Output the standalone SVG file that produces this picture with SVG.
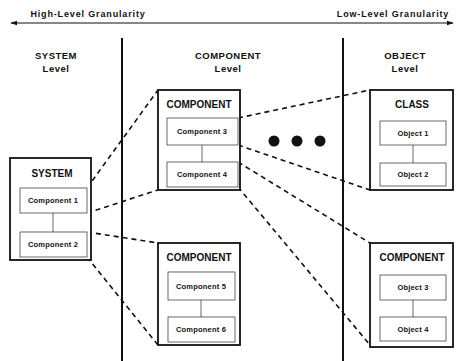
<svg xmlns="http://www.w3.org/2000/svg" width="459" height="361" viewBox="0 0 459 361">
<style>
text{font-family:"Liberation Sans",Arial,sans-serif;fill:#111;text-anchor:middle}
.hdr{font-size:9.5px;font-weight:bold;letter-spacing:0.5px}
.gran{font-size:9px;font-weight:bold;letter-spacing:0.85px}
.ttl{font-size:10px;font-weight:bold}
.sub{font-size:7.5px;font-weight:bold;letter-spacing:0.2px}
.outer{fill:#fff;stroke:#111;stroke-width:1.8}
.inner{fill:#fff;stroke:#444;stroke-width:0.8}
.link{stroke:#444;stroke-width:0.8}
.dash{stroke:#111;stroke-width:1.6;stroke-dasharray:5 4;fill:none}
.div{stroke:#111;stroke-width:2}
</style>
<defs>
<marker id="ah" viewBox="0 0 10 10" refX="9" refY="5" markerWidth="7" markerHeight="7" orient="auto-start-reverse" markerUnits="userSpaceOnUse">
<path d="M0,1.5 L10,5 L0,8.5 Z" fill="#111"/>
</marker>
</defs>
<g id="scale">
<line x1="11" y1="23" x2="453" y2="23" stroke="#111" stroke-width="1.2" marker-start="url(#ah)" marker-end="url(#ah)"/>
<text class="gran" x="88" y="17">High-Level Granularity</text>
<text class="gran" x="393" y="17">Low-Level Granularity</text>
</g>
<g id="dividers">
<line class="div" x1="122" y1="38" x2="122" y2="361"/>
<line class="div" x1="343" y1="38" x2="343" y2="361"/>
</g>
<g id="headers">
<text class="hdr" x="56" y="59">SYSTEM</text>
<text class="hdr" x="56" y="72">Level</text>
<text class="hdr" x="228" y="59">COMPONENT</text>
<text class="hdr" x="228" y="72">Level</text>
<text class="hdr" x="405" y="59">OBJECT</text>
<text class="hdr" x="405" y="72">Level</text>
</g>
<g id="connectors">
<line class="dash" x1="87" y1="188" x2="158" y2="90"/>
<line class="dash" x1="87" y1="213" x2="158" y2="190"/>
<line class="dash" x1="87" y1="232" x2="158" y2="243"/>
<line class="dash" x1="87" y1="257" x2="158" y2="345"/>
<line class="dash" x1="238" y1="118" x2="370" y2="90"/>
<line class="dash" x1="238" y1="145" x2="370" y2="190"/>
<line class="dash" x1="238" y1="162" x2="370" y2="243"/>
<line class="dash" x1="238" y1="187" x2="370" y2="345"/>
</g>
<g id="system">
<rect class="outer" x="10" y="158" width="81" height="102"/>
<text class="ttl" x="52" y="177">SYSTEM</text>
<line class="link" x1="53" y1="213" x2="53" y2="232"/>
<rect class="inner" x="20" y="188" width="67" height="25"/>
<text class="sub" x="53" y="203">Component 1</text>
<rect class="inner" x="20" y="232" width="67" height="25"/>
<text class="sub" x="53" y="247">Component 2</text>
</g>
<g id="component-a">
<rect class="outer" x="158" y="90" width="82" height="100"/>
<text class="ttl" x="199" y="108">COMPONENT</text>
<line class="link" x1="202" y1="145" x2="202" y2="162"/>
<rect class="inner" x="167" y="118" width="71" height="27"/>
<text class="sub" x="202" y="134">Component 3</text>
<rect class="inner" x="167" y="162" width="71" height="25"/>
<text class="sub" x="202" y="177">Component 4</text>
</g>
<g id="component-b">
<rect class="outer" x="158" y="243" width="82" height="102"/>
<text class="ttl" x="199" y="261">COMPONENT</text>
<line class="link" x1="201" y1="300" x2="201" y2="317"/>
<rect class="inner" x="168" y="272" width="67" height="28"/>
<text class="sub" x="201" y="289">Component 5</text>
<rect class="inner" x="168" y="317" width="67" height="25"/>
<text class="sub" x="201" y="332">Component 6</text>
</g>
<g id="ellipsis">
<circle cx="274" cy="141" r="5.5" fill="#111"/>
<circle cx="297" cy="141" r="5.5" fill="#111"/>
<circle cx="320" cy="141" r="5.5" fill="#111"/>
</g>
<g id="class">
<rect class="outer" x="370" y="90" width="83" height="100"/>
<text class="ttl" x="412" y="108">CLASS</text>
<line class="link" x1="413" y1="145" x2="413" y2="163"/>
<rect class="inner" x="380" y="121" width="66" height="24"/>
<text class="sub" x="413" y="136">Object 1</text>
<rect class="inner" x="380" y="163" width="66" height="23"/>
<text class="sub" x="413" y="177">Object 2</text>
</g>
<g id="component-c">
<rect class="outer" x="370" y="243" width="83" height="104"/>
<text class="ttl" x="412" y="261">COMPONENT</text>
<line class="link" x1="413" y1="300" x2="413" y2="317"/>
<rect class="inner" x="380" y="275" width="66" height="25"/>
<text class="sub" x="413" y="290">Object 3</text>
<rect class="inner" x="380" y="317" width="66" height="24"/>
<text class="sub" x="413" y="332">Object 4</text>
</g>
</svg>
